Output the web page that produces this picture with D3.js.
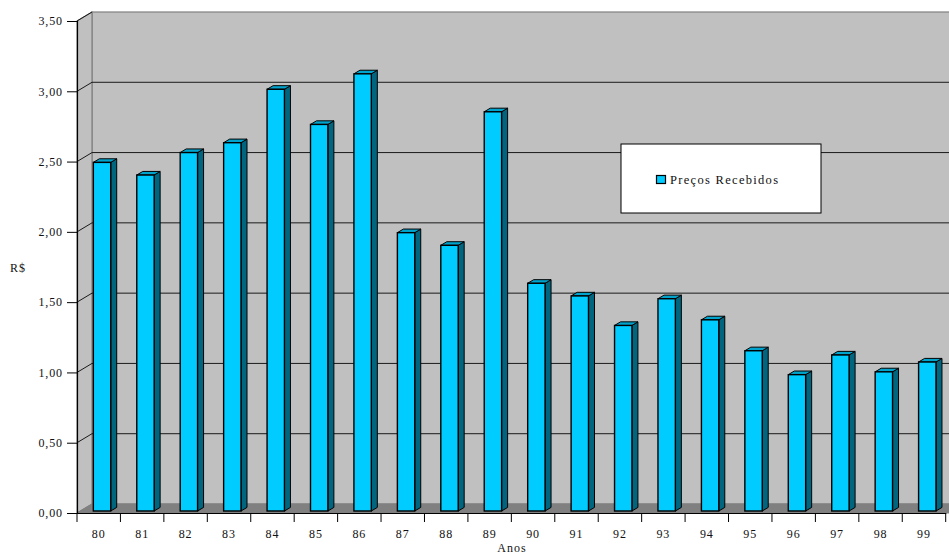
<!DOCTYPE html>
<html>
<head>
<meta charset="utf-8">
<script src="https://cdn.jsdelivr.net/npm/d3@7"></script>
<style>
  html, body { margin: 0; padding: 0; background: #fff; }
  svg { display: block; }
  svg text { font-family: "Liberation Serif", "Times New Roman", serif; fill: #111; }
</style>
</head>
<body>
<svg id="chart" width="949" height="558"></svg>
<script>
// Preços recebidos (R$) por ano
const years = ["80","81","82","83","84","85","86","87","88","89","90","91","92","93","94","95","96","97","98","99"];
const prices = [2.48, 2.39, 2.55, 2.62, 3.00, 2.75, 3.11, 1.98, 1.89, 2.84, 1.62, 1.53, 1.32, 1.51, 1.36, 1.14, 0.97, 1.11, 0.99, 1.06];
const yTicks = [0, 0.5, 1, 1.5, 2, 2.5, 3, 3.5];
const seriesName = "Preços Recebidos";

const svg = d3.select("#chart");
const W = 949, H = 558;
const FONT = "'Liberation Serif', 'Times New Roman', serif";

// front plane of the 3D box
const x = d3.scaleBand().domain(years).range([77, 945.7]).paddingInner(0).paddingOuter(0);
const y = d3.scaleLinear().domain([0, 3.5]).range([513, 21]);

// depth vector (front -> back wall)
const DX = 15, DY = -9;
const fmt = v => d3.format(".2f")(v).replace(".", ",");

const wallFill = "#c0c0c0", floorFill = "#808080", edge = "#808080";
const xr = W + 20;

// back wall
svg.append("rect")
  .attr("x", 77 + DX).attr("y", y(3.5) + DY)
  .attr("width", xr - (77 + DX)).attr("height", y(0) - y(3.5))
  .attr("fill", wallFill).attr("stroke", edge).attr("stroke-width", 1.2);

// side wall
svg.append("polygon")
  .attr("points", [[77, y(3.5)], [77 + DX, y(3.5) + DY], [77 + DX, y(0) + DY], [77, y(0)]].join(" "))
  .attr("fill", wallFill).attr("stroke", edge).attr("stroke-width", 1.2);

// floor
svg.append("polygon")
  .attr("points", [[77, y(0)], [77 + DX, y(0) + DY], [xr, y(0) + DY], [xr, y(0)]].join(" "))
  .attr("fill", floorFill).attr("stroke", edge).attr("stroke-width", 1);

// gridlines: back wall + side wall diagonals
const grid = svg.append("g");
yTicks.filter(v => v > 0 && v < 3.5).forEach(v => {
  grid.append("line")
    .attr("x1", 77 + DX).attr("x2", xr)
    .attr("y1", y(v) + DY).attr("y2", y(v) + DY)
    .attr("stroke", "#1a1a1a").attr("stroke-width", 1);
});
yTicks.filter(v => v > 0).forEach(v => {
  grid.append("line")
    .attr("x1", 77).attr("y1", y(v))
    .attr("x2", 77 + DX).attr("y2", y(v) + DY)
    .attr("stroke", "#1a1a1a").attr("stroke-width", 1);
});

// bars (front face, side, top)
const bw = x.bandwidth() * 0.4;
const fdx = 3.3, fdy = -2;         // bar front offset into depth
const bdx = 6, bdy = -3.6;          // bar depth
const bars = svg.append("g");
years.forEach((yr, i) => {
  const v = prices[i];
  const x0 = x(yr) + x.bandwidth() * 0.3 + fdx;
  const x1 = x0 + bw;
  const yt = y(v) + fdy, yb = y(0) + fdy;
  bars.append("polygon")
    .attr("points", [[x1, yt], [x1 + bdx, yt + bdy], [x1 + bdx, yb + bdy], [x1, yb]].join(" "))
    .attr("fill", "#006680").attr("stroke", "#000").attr("stroke-width", 1).attr("stroke-linejoin", "round");
  bars.append("polygon")
    .attr("points", [[x0, yt], [x0 + bdx, yt + bdy], [x1 + bdx, yt + bdy], [x1, yt]].join(" "))
    .attr("fill", "#00a3cc").attr("stroke", "#000").attr("stroke-width", 1).attr("stroke-linejoin", "round");
  bars.append("rect")
    .attr("x", x0).attr("y", yt).attr("width", bw).attr("height", yb - yt)
    .attr("fill", "#00ccff").attr("stroke", "#000").attr("stroke-width", 1.4);
});

// y axis
const yAxis = svg.append("g").attr("transform", "translate(77,0)")
  .call(d3.axisLeft(y).tickValues(yTicks).tickFormat(fmt).tickSize(10).tickPadding(4))
  .attr("font-family", FONT);
yAxis.select(".domain").attr("stroke", "#000").attr("stroke-width", 1.2);
yAxis.selectAll(".tick line").attr("stroke", "#000");
yAxis.selectAll("text").attr("font-size", 12).attr("letter-spacing", 0.9);

// x axis
const xAxis = svg.append("g").attr("transform", `translate(0,${y(0)})`)
  .call(d3.axisBottom(x).tickSize(0).tickPadding(16))
  .attr("font-family", FONT);
xAxis.select(".domain").attr("stroke", "#000").attr("stroke-width", 1.2);
xAxis.selectAll("text").attr("font-size", 12).attr("letter-spacing", 0.9);
// category separators
const xEdges = years.map(d => x(d)).concat([x(years[years.length - 1]) + x.bandwidth()]);
svg.append("g").selectAll("line").data(xEdges).join("line")
  .attr("x1", d => d).attr("x2", d => d)
  .attr("y1", y(0)).attr("y2", y(0) + 9)
  .attr("stroke", "#000").attr("stroke-width", 1);

// axis titles
svg.append("text").attr("x", 18).attr("y", 272).attr("text-anchor", "middle")
  .attr("font-family", FONT).attr("font-size", 12).attr("letter-spacing", 1).text("R$");
svg.append("text").attr("x", 512).attr("y", 552).attr("text-anchor", "middle")
  .attr("font-family", FONT).attr("font-size", 12).attr("letter-spacing", 1).text("Anos");

// legend
const lg = svg.append("g").attr("transform", "translate(621,144)");
lg.append("rect").attr("width", 200).attr("height", 69)
  .attr("fill", "#fff").attr("stroke", "#000").attr("stroke-width", 1);
lg.append("rect").attr("x", 35.5).attr("y", 31.5).attr("width", 9).attr("height", 8)
  .attr("fill", "#00ccff").attr("stroke", "#000").attr("stroke-width", 1.2);
lg.append("text").attr("x", 49).attr("y", 40)
  .attr("font-family", FONT).attr("font-size", 12.5).attr("letter-spacing", 1.3).text(seriesName);
</script>
</body>
</html>
